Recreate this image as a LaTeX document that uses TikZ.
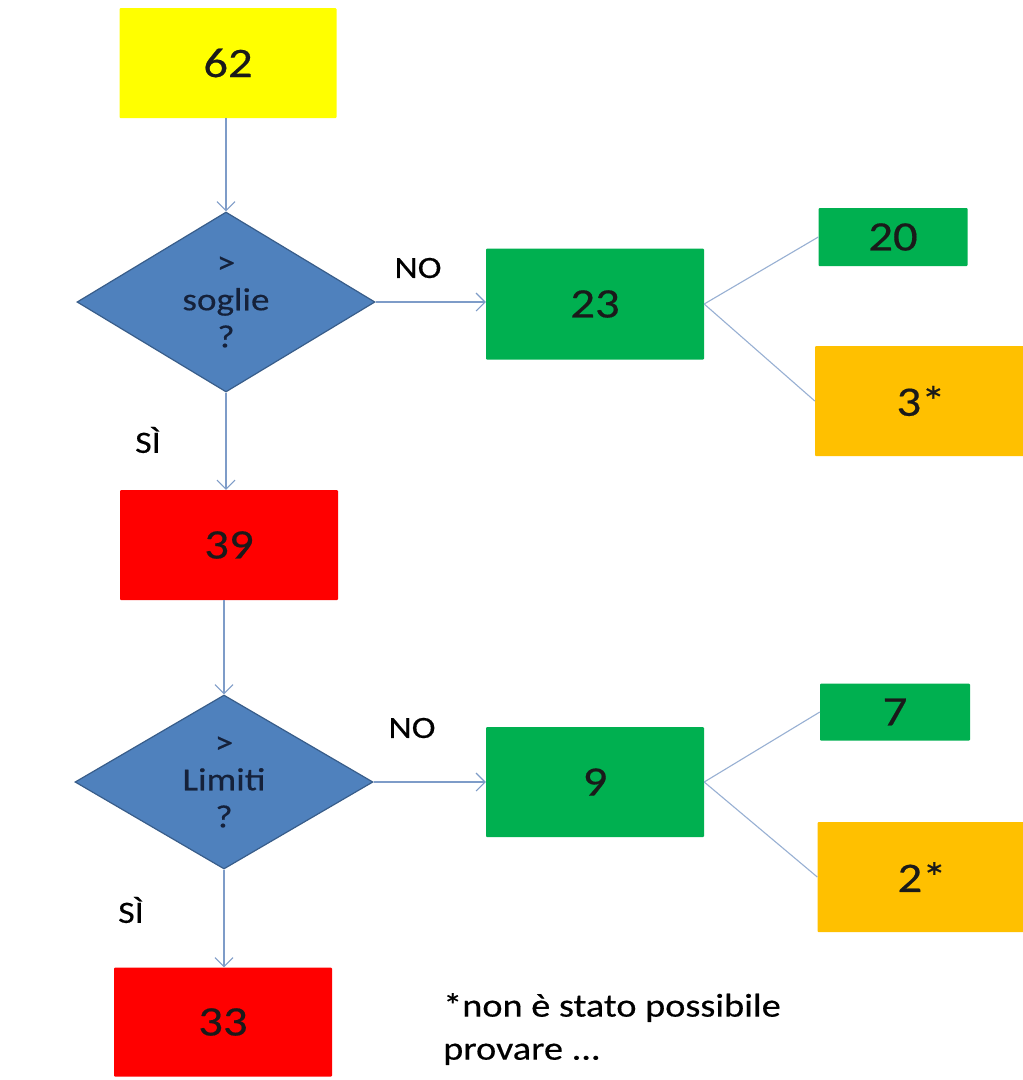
\documentclass[tikz,border=0pt]{standalone}
\usepackage{fontspec}
\setmainfont{Carlito}[FakeStretch=1.16,FakeBold=0.4]
\usetikzlibrary{shapes.geometric,arrows.meta}
\definecolor{cyel}{HTML}{FFFF00}
\definecolor{cgreen}{HTML}{00B050}
\definecolor{corange}{HTML}{FFC000}
\definecolor{cred}{HTML}{FF0000}
\definecolor{cblue}{HTML}{4F81BD}
\definecolor{cblueborder}{HTML}{385D8A}
\definecolor{cline}{HTML}{7E9CC8}
\definecolor{ctext}{HTML}{1A1A1A}
\definecolor{cdtext}{HTML}{15213A}
\tikzset{
  box/.style={rectangle, inner sep=0pt, draw=none, rounded corners=1pt, text=ctext,
    font=\fontsize{42}{48}\selectfont},
  decision/.style={diamond, draw=cblueborder, line width=1.2pt, fill=cblue, inner sep=0pt,
    minimum width=298pt, minimum height=180pt, align=center, text=cdtext,
    font=\fontsize{32}{37}\selectfont},
  lbl/.style={inner sep=0pt, text=black, font=\fontsize{31}{36}\selectfont},
  flow/.style={draw=cline, line width=1.1pt, -{Straight Barb[length=9pt,width=18pt,line width=1.1pt]}},
  branch/.style={draw=cline!80, line width=1.1pt}
}
\begin{document}
\begin{tikzpicture}[x=1pt,y=-1pt]
\useasboundingbox (0,0) rectangle (1023,1080);
\fill[white] (0,0) rectangle (1023,1080);
% column 1
\node[box, fill=cyel, minimum width=217pt, minimum height=110pt] (n62) at (228,63) {62};
\node[decision] (d1) at (226,302) {>\\soglie\\?};
\node[box, fill=cred, minimum width=218pt, minimum height=110pt] (n39) at (229,545) {39};
\node[decision, minimum height=174pt] (d2) at (224,782) {>\\Limiti\\?};
\node[box, fill=cred, minimum width=218pt, minimum height=109pt] (n33) at (223,1022) {33};
% column 2
\node[box, fill=cgreen, minimum width=218pt, minimum height=111pt] (n23) at (595,304) {23};
\node[box, fill=cgreen, minimum width=218pt, minimum height=110pt] (n9) at (595,782) {9};
% column 3
\node[box, fill=cgreen, minimum width=149pt, minimum height=58pt] (n20) at (893,237) {20};
\node[box, fill=corange, minimum width=212pt, minimum height=110pt] (n3) at (921,401) {3*};
\node[box, fill=cgreen, minimum width=150pt, minimum height=57pt] (n7) at (895,712) {7};
\node[box, fill=corange, minimum width=209pt, minimum height=110pt] (n2) at (922,877) {2*};
% labels
\node[lbl] (no1) at (418,268) {NO};
\node[lbl] (si1) at (148,440) {SÌ};
\node[lbl] (no2) at (412,728) {NO};
\node[lbl] (si2) at (131,910) {SÌ};
\node[lbl, anchor=north west, align=left, font=\fontsize{33}{43}\selectfont] (note) at (443,993)
  {*non è stato possibile\\provare ...};
% connectors
\draw[flow] (n62.south -| d1.north) -- (d1.north);
\draw[flow] (d1.east) -- (d1.east -| n23.west);
\draw[flow] (d1.south) -- (d1.south |- n39.north);
\draw[flow] (n39.south -| d2.north) -- (d2.north);
\draw[flow] (d2.east) -- (d2.east -| n9.west);
\draw[flow] (d2.south) -- (d2.south |- n33.north);
\draw[branch] (n23.east) -- (n20.west);
\draw[branch] (n23.east) -- (n3.west);
\draw[branch] (n9.east) -- (n7.west);
\draw[branch] (n9.east) -- (n2.west);
\end{tikzpicture}
\end{document}
